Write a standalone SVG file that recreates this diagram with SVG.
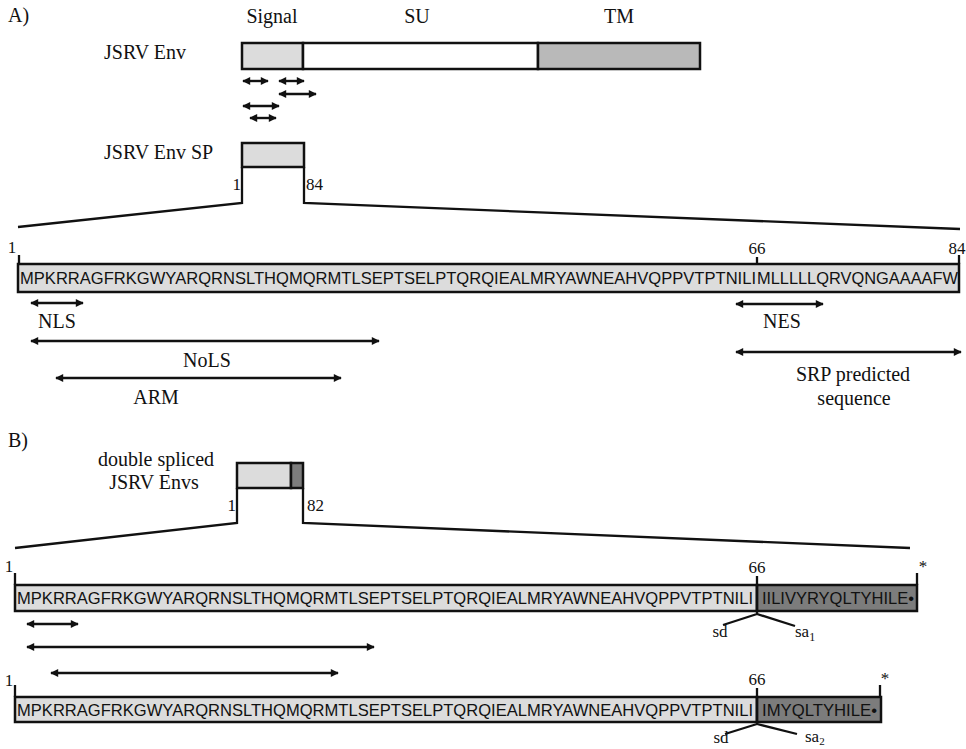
<svg xmlns="http://www.w3.org/2000/svg" width="966" height="749" viewBox="0 0 966 749">
<style>
.lbl{font-family:"Liberation Serif","Times New Roman",serif;font-size:20px;fill:#111}
.num{font-family:"Liberation Serif","Times New Roman",serif;font-size:17px;fill:#111}
.seq{font-family:"Liberation Sans",Arial,sans-serif;font-size:16.4px;fill:#111}
.box{stroke:#111;stroke-width:2.5}
.light{fill:#dcdcdc}
.mid{fill:#b9b9b9}
.dark{fill:#7c7c7c}
.ln{stroke:#111;stroke-width:2.3;fill:none}
.arr{stroke:#111;stroke-width:2.4;fill:none;marker-start:url(#ah);marker-end:url(#ah)}
</style>
<defs>
<marker id="ah" viewBox="0 0 10 10" refX="9" refY="5" markerWidth="10" markerHeight="8" markerUnits="userSpaceOnUse" orient="auto-start-reverse">
<path d="M0,0 L10,5 L0,10 z" fill="#111"/>
</marker>
</defs>
<rect width="966" height="749" fill="#fff"/>

<!-- Panel A -->
<text class="lbl" x="8" y="22">A)</text>

<g id="env">
<text class="lbl" x="104" y="59">JSRV Env</text>
<text class="lbl" x="272" y="23" text-anchor="middle">Signal</text>
<text class="lbl" x="417" y="23" text-anchor="middle">SU</text>
<text class="lbl" x="619" y="23" text-anchor="middle">TM</text>
<rect class="box light" x="242" y="43" width="61" height="26"/>
<rect class="box" x="303" y="43" width="235" height="26" fill="#fff"/>
<rect class="box mid" x="538" y="43" width="162" height="26"/>
</g>

<g id="env-sp">
<text class="lbl" x="104" y="159">JSRV Env SP</text>
<rect class="box light" x="242" y="143" width="62" height="24"/>
<text class="num" x="241" y="190" text-anchor="end">1</text>
<text class="num" x="306" y="190">84</text>
</g>

<g id="seq-a">
<text class="num" x="12" y="253" text-anchor="middle">1</text>
<text class="num" x="757" y="254" text-anchor="middle">66</text>
<text class="num" x="957" y="254" text-anchor="middle">84</text>
<rect class="box light" x="18" y="264" width="941" height="28"/>
<text class="seq" x="20" y="284" textLength="736" lengthAdjust="spacingAndGlyphs">MPKRRAGFRKGWYARQRNSLTHQMQRMTLSEPTSELPTQRQIEALMRYAWNEAHVQPPVTPTNILI</text>
<text class="seq" x="757" y="284" textLength="201" lengthAdjust="spacingAndGlyphs">MLLLLLQRVQNGAAAAFW</text>
</g>

<g id="labels-a">
<text class="lbl" x="57" y="328" text-anchor="middle">NLS</text>
<text class="lbl" x="207" y="367" text-anchor="middle">NoLS</text>
<text class="lbl" x="156" y="404" text-anchor="middle">ARM</text>
<text class="lbl" x="782" y="328" text-anchor="middle">NES</text>
<text class="lbl" x="853" y="381" text-anchor="middle">SRP predicted</text>
<text class="lbl" x="854" y="405" text-anchor="middle">sequence</text>
</g>

<!-- Panel B -->
<text class="lbl" x="8" y="447">B)</text>

<g id="ds-env">
<text class="lbl" x="156" y="466" text-anchor="middle">double spliced</text>
<text class="lbl" x="154" y="489" text-anchor="middle">JSRV Envs</text>
<rect class="box light" x="237" y="463" width="54" height="25"/>
<rect class="box dark" x="291" y="463" width="12" height="25"/>
<text class="num" x="236" y="511" text-anchor="end">1</text>
<text class="num" x="307" y="511">82</text>
</g>

<g id="seq-b1">
<text class="num" x="9" y="572" text-anchor="middle">1</text>
<text class="num" x="757" y="573" text-anchor="middle">66</text>
<text class="num" x="923" y="572" text-anchor="middle">*</text>
<rect class="box light" x="15" y="585" width="742" height="26"/>
<rect class="box dark" x="757" y="585" width="160" height="26"/>
<text class="seq" x="17" y="604" textLength="736" lengthAdjust="spacingAndGlyphs">MPKRRAGFRKGWYARQRNSLTHQMQRMTLSEPTSELPTQRQIEALMRYAWNEAHVQPPVTPTNILI</text>
<text class="seq" x="762" y="604" textLength="152" lengthAdjust="spacingAndGlyphs">IILIVYRYQLTYHILE•</text>
<text class="num" x="720" y="637" text-anchor="middle">sd</text>
<text class="num" x="795" y="637">sa<tspan font-size="12" dy="4">1</tspan></text>
</g>

<g id="seq-b2">
<text class="num" x="9" y="686" text-anchor="middle">1</text>
<text class="num" x="757" y="685" text-anchor="middle">66</text>
<text class="num" x="885" y="684" text-anchor="middle">*</text>
<rect class="box light" x="15" y="697" width="742" height="25"/>
<rect class="box dark" x="757" y="697" width="124" height="25"/>
<text class="seq" x="17" y="716" textLength="736" lengthAdjust="spacingAndGlyphs">MPKRRAGFRKGWYARQRNSLTHQMQRMTLSEPTSELPTQRQIEALMRYAWNEAHVQPPVTPTNILI</text>
<text class="seq" x="762" y="716" textLength="115" lengthAdjust="spacingAndGlyphs">IMYQLTYHILE•</text>
<text class="num" x="721" y="743" text-anchor="middle">sd</text>
<text class="num" x="805" y="742">sa<tspan font-size="11" dy="3">2</tspan></text>
</g>

<g id="connectors">
<line class="arr" x1="243" y1="81" x2="268" y2="81"/>
<line class="arr" x1="279" y1="81" x2="304" y2="81"/>
<line class="arr" x1="279" y1="94" x2="316" y2="94"/>
<line class="arr" x1="243" y1="106" x2="279" y2="106"/>
<line class="arr" x1="250" y1="118" x2="276" y2="118"/>
<polyline class="ln" points="242,167 242,203 18,227"/>
<polyline class="ln" points="304,167 304,203 960,229"/>
<line class="ln" x1="19" y1="255" x2="19" y2="264"/>
<line class="ln" x1="757" y1="257" x2="757" y2="264"/>
<line class="ln" x1="959" y1="255" x2="959" y2="264"/>
<line class="arr" x1="31" y1="303" x2="83" y2="303"/>
<line class="arr" x1="31" y1="341" x2="379" y2="341"/>
<line class="arr" x1="56" y1="378" x2="341" y2="378"/>
<line class="arr" x1="736" y1="304" x2="823" y2="304"/>
<line class="arr" x1="736" y1="352" x2="961" y2="352"/>
<polyline class="ln" points="237,488 237,523 15,548"/>
<polyline class="ln" points="303,488 303,523 910,548"/>
<line class="ln" x1="15" y1="573" x2="15" y2="585"/>
<line class="ln" x1="917" y1="573" x2="917" y2="585"/>
<polyline class="ln" points="757,576 757,614 723,625"/>
<line class="ln" x1="757" y1="614" x2="795" y2="626"/>
<line class="arr" x1="27" y1="624" x2="78" y2="624"/>
<line class="arr" x1="27" y1="647" x2="374" y2="647"/>
<line class="arr" x1="51" y1="673" x2="338" y2="673"/>
<line class="ln" x1="15" y1="685" x2="15" y2="697"/>
<line class="ln" x1="880" y1="685" x2="880" y2="697"/>
<polyline class="ln" points="757,688 757,724 725,734"/>
<line class="ln" x1="757" y1="724" x2="797" y2="734"/>
</g>
</svg>
